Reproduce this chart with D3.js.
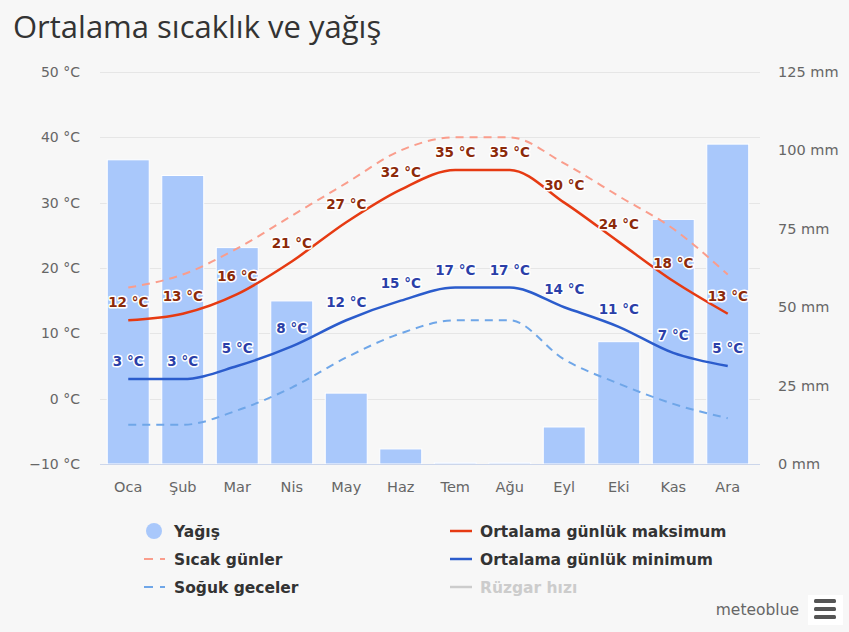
<!DOCTYPE html>
<html><head><meta charset="utf-8">
<script src="https://cdn.jsdelivr.net/npm/d3@7"></script>
<style>
html,body{margin:0;padding:0;background:#f7f7f7;}
svg{display:block;font-family:"DejaVu Sans",sans-serif;}
</style></head>
<body><svg id="c" width="849" height="632"></svg>
<script>
const months = ["Oca","Şub","Mar","Nis","May","Haz","Tem","Ağu","Eyl","Eki","Kas","Ara"];
const precip = [97, 92, 69, 52, 22.6, 4.8, 0.4, 0.4, 11.8, 39, 78, 102];
const tMax = [12,13,16,21,27,32,35,35,30,24,18,13];
const tMin = [3,3,5,8,12,15,17,17,14,11,7,5];
const hotDays = [17,19,23,28,33,38,40,40,36,31,26,19];
const coldNights = [-4,-4,-1.8,1.7,6.3,10,12,12,6,2.3,-0.8,-3];
const tempTicks = [-10,0,10,20,30,40,50];
const precipTicks = [0,25,50,75,100,125];

const svg = d3.select("#c");
const pLeft = 101, pRight = 755, pTop = 72, pBottom = 464;

const x = d3.scaleBand().domain(months).range([pLeft,pRight]).paddingInner(0.23).paddingOuter(0.115);
const yT = d3.scaleLinear().domain([-10,50]).range([pBottom,pTop]);
const yP = d3.scaleLinear().domain([0,125]).range([pBottom,pTop]);
const cx = m => x(m) + x.bandwidth()/2;

// title
svg.append("text").attr("x",13).attr("y",38).attr("font-family","'Open Sans',sans-serif").attr("font-size",31).attr("fill","#333").text("Ortalama sıcaklık ve yağış");

// grid
svg.append("g").selectAll("line").data(tempTicks).join("line")
  .attr("x1",pLeft-1).attr("x2",760).attr("y1",d=>Math.round(yT(d))+0.5).attr("y2",d=>Math.round(yT(d))+0.5)
  .attr("stroke","#e6e6e6").attr("stroke-width",1);

// left axis labels
svg.append("g").selectAll("text").data(tempTicks).join("text")
  .attr("x",80).attr("y",d=>yT(d)+5).attr("text-anchor","end").attr("font-size",14).attr("fill","#666")
  .text(d=>(d<0?"−"+Math.abs(d):d)+" °C");
// right axis labels
svg.append("g").selectAll("text").data(precipTicks).join("text")
  .attr("x",778).attr("y",d=>yP(d)+5).attr("text-anchor","start").attr("font-size",14.5).attr("fill","#666")
  .text(d=>d+" mm");

// bars
svg.append("g").selectAll("rect").data(months).join("rect")
  .attr("x",d=>x(d)).attr("width",x.bandwidth())
  .attr("y",(d,i)=>yP(precip[i])).attr("height",(d,i)=>pBottom-yP(precip[i]))
  .attr("fill","#a9c8fb").attr("stroke","#ffffff").attr("stroke-width",1);

// x axis line
svg.append("line").attr("x1",pLeft-1).attr("x2",760).attr("y1",pBottom+0.5).attr("y2",pBottom+0.5).attr("stroke","#ccd6eb");
svg.append("g").selectAll("text").data(months).join("text")
  .attr("x",d=>cx(d)).attr("y",492).attr("text-anchor","middle").attr("font-size",14.5).attr("fill","#666").text(d=>d);

const line = d3.line().x((d,i)=>cx(months[i])).y(d=>yT(d)).curve(d3.curveMonotoneX);
svg.append("path").attr("d",line(coldNights)).attr("fill","none").attr("stroke","#6fa6e8").attr("stroke-width",2).attr("stroke-dasharray","8,6");
svg.append("path").attr("d",line(hotDays)).attr("fill","none").attr("stroke","#fa9d8c").attr("stroke-width",2).attr("stroke-dasharray","8,6");
svg.append("path").attr("d",line(tMin)).attr("fill","none").attr("stroke","#2b5ccc").attr("stroke-width",2.5);
svg.append("path").attr("d",line(tMax)).attr("fill","none").attr("stroke","#e63a12").attr("stroke-width",2.5);

function labels(arr,color){
  svg.append("g").selectAll("text").data(arr).join("text")
    .attr("x",(d,i)=>cx(months[i])).attr("y",d=>yT(d)-13).attr("text-anchor","middle")
    .attr("font-size",13.5).attr("font-weight","bold").attr("fill",color)
    .attr("stroke","#ffffff").attr("stroke-width",3).attr("stroke-linejoin","round").attr("paint-order","stroke")
    .text(d=>d+" °C");
}
labels(tMax,"#8c2a0a");
labels(tMin,"#2b3fa8");

// legend
const lg = svg.append("g").attr("font-size",15.5).attr("font-weight","bold");
const rows = [531,559,587];
lg.append("circle").attr("cx",154).attr("cy",rows[0]).attr("r",8).attr("fill","#a9c8fb");
lg.append("text").attr("x",174).attr("y",rows[0]+5.5).attr("fill","#333").text("Yağış");
lg.append("line").attr("x1",144).attr("x2",165).attr("y1",rows[1]).attr("y2",rows[1]).attr("stroke","#fa9d8c").attr("stroke-width",2).attr("stroke-dasharray","9,7");
lg.append("text").attr("x",174).attr("y",rows[1]+5.5).attr("fill","#333").text("Sıcak günler");
lg.append("line").attr("x1",144).attr("x2",165).attr("y1",rows[2]).attr("y2",rows[2]).attr("stroke","#6fa6e8").attr("stroke-width",2).attr("stroke-dasharray","9,7");
lg.append("text").attr("x",174).attr("y",rows[2]+5.5).attr("fill","#333").text("Soğuk geceler");
lg.append("line").attr("x1",450).attr("x2",472).attr("y1",rows[0]).attr("y2",rows[0]).attr("stroke","#e63a12").attr("stroke-width",2.5);
lg.append("text").attr("x",480).attr("y",rows[0]+5.5).attr("fill","#333").text("Ortalama günlük maksimum");
lg.append("line").attr("x1",450).attr("x2",472).attr("y1",rows[1]).attr("y2",rows[1]).attr("stroke","#2b5ccc").attr("stroke-width",2.5);
lg.append("text").attr("x",480).attr("y",rows[1]+5.5).attr("fill","#333").text("Ortalama günlük minimum");
lg.append("line").attr("x1",450).attr("x2",472).attr("y1",rows[2]).attr("y2",rows[2]).attr("stroke","#cccccc").attr("stroke-width",2.5);
lg.append("text").attr("x",480).attr("y",rows[2]+5.5).attr("fill","#cccccc").text("Rüzgar hızı");

// credit
svg.append("text").attr("x",799).attr("y",615).attr("text-anchor","end").attr("font-size",15.5).attr("fill","#666").text("meteoblue");
svg.append("rect").attr("x",808).attr("y",595).attr("width",35).attr("height",30).attr("fill","#ffffff");
[601,609,617].forEach(yy=>svg.append("rect").attr("x",814).attr("y",yy-2).attr("width",22).attr("height",4).attr("rx",1.5).attr("fill","#555"));
</script></body></html>
